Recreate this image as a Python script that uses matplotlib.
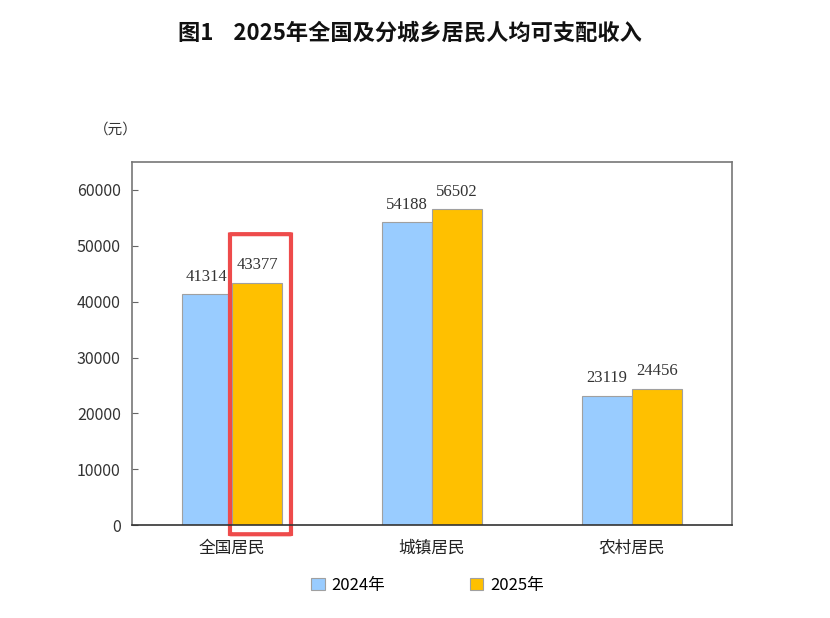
import numpy as np
import matplotlib.pyplot as plt
from matplotlib.patches import FancyBboxPatch

plt.rcParams['font.family'] = ['Noto Sans CJK SC', 'DejaVu Sans']

categories = ["全国居民", "城镇居民", "农村居民"]
years = ["2024年", "2025年"]
income_2024 = [41314, 54188, 23119]
income_2025 = [43377, 56502, 24456]
highlight = 0  # index of the highlighted 2025 bar

blue = "#99CCFF"
yellow = "#FFC000"
edge = "#A0A0A0"

fig = plt.figure(figsize=(8.3, 6.18), dpi=100)
ax = fig.add_axes([0.159, 0.150, 0.723, 0.588])

x = np.arange(len(categories))
w = 0.25
b1 = ax.bar(x - w / 2, income_2024, w, color=blue, edgecolor=edge, linewidth=0.8, label=years[0])
b2 = ax.bar(x + w / 2, income_2025, w, color=yellow, edgecolor=edge, linewidth=0.8, label=years[1])

for bars in (b1, b2):
    for r in bars:
        ax.annotate(f"{int(r.get_height())}", (r.get_x() + r.get_width() / 2, r.get_height()),
                    xytext=(0, 7), textcoords="offset points", ha="center", va="bottom",
                    fontsize=12, family="Liberation Serif", color="#333333")

ax.set_xlim(-0.5, 2.5)
ax.set_ylim(0, 65000)
ax.set_yticks(np.arange(0, 60001, 10000))
ax.set_xticks(x)
ax.set_xticklabels(categories, fontsize=12, color="#222222")
ax.tick_params(axis="x", length=0, pad=10)
ax.tick_params(axis="y", direction="in", length=4, labelsize=11.5, color="#666666", labelcolor="#333333", pad=8)
for s in ax.spines.values():
    s.set_color("#777777")
    s.set_linewidth(1.2)
ax.spines["bottom"].set_color("#333333")

# red highlight box around the 2025 bar of 全国居民
hx = x[highlight]
hv = income_2025[highlight]
box = FancyBboxPatch((hx - 0.01, -1600), w + 0.055, hv + 10300,
                     boxstyle="round,pad=0,rounding_size=0.01", fill=False,
                     edgecolor="#EE4B4B", linewidth=3, clip_on=False, mutation_aspect=2500)
ax.add_patch(box)

fig.text(0.139, 0.79, "（元）", fontsize=10.5, ha="center", va="center", color="#333333")
fig.text(0.494, 0.947, "图1    2025年全国及分城乡居民人均可支配收入", fontsize=16,
         fontweight="bold", ha="center", va="center", color="#111111")

fig.legend(loc="center", bbox_to_anchor=(0.515, 0.053), ncol=2, frameon=False,
           fontsize=12, handlelength=0.8, handleheight=0.8, columnspacing=5.1, handletextpad=0.4)

fig.savefig("out.png", dpi=100, facecolor="white")
